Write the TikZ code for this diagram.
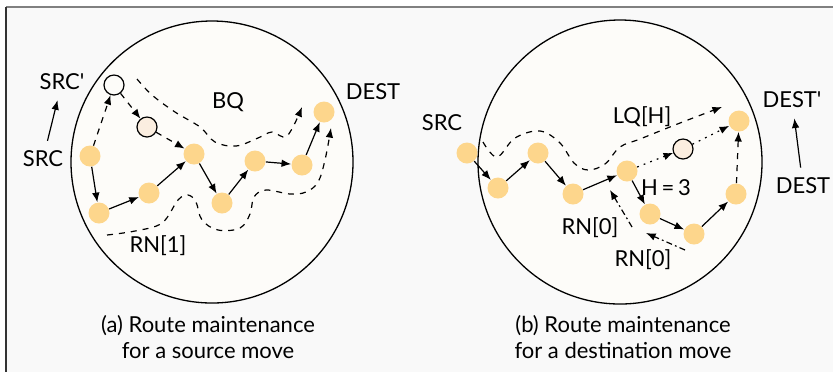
\documentclass[tikz,border=0pt]{standalone}
\usepackage{fontspec}
\setmainfont{Lato}
\usetikzlibrary{arrows.meta}
\definecolor{hoporange}{RGB}{253,214,140}
\definecolor{oldpeach}{RGB}{251,238,224}
\definecolor{areafill}{RGB}{253,252,249}
\definecolor{panelgray}{RGB}{249,249,249}
\begin{document}
\begin{tikzpicture}[x=0.5pt,y=-0.5pt,>={Latex[length=4.8pt,width=3.8pt]}]
        		\tikzstyle{hop}=[circle,fill=hoporange,minimum size=10.5pt,inner sep=0pt]
        		\tikzstyle{moved}=[circle,draw=black,line width=0.6pt,fill=areafill,minimum size=10pt,inner sep=0pt]
        		\tikzstyle{edge}=[draw=black,line width=0.6pt,->]
        		\tikzstyle{txt}=[inner sep=0pt,font=\fontsize{11}{13}\selectfont]
        		\tikzstyle{area}=[draw=black,line width=0.65pt,fill=areafill]

        		\useasboundingbox (0,0) rectangle (833,372);
        		\fill[panelgray] (6,7) rectangle (833,372);
        		\draw[gray,line width=1pt] (6,7) -- (833,7);
        		\draw[black!80,line width=1pt] (6,7) -- (6,372);

       			% (a) source move
       			\begin{scope}
			         \draw[area] (212,162) circle [radius=141];

			         \node [hop] (a1) at (90,156) {};
			         \node [hop] (a2) at (99,213) {};
			         \node [hop] (a3) at (149,193) {};
			         \node [hop] (a4) at (194,154) {};
			         \node [hop] (a5) at (222,203) {};
			         \node [hop] (a6) at (255,161) {};
			         \node [hop] (a7) at (302,165) {};
			         \node [hop] (a8) at (324,112) {};
			         \node [moved] (w1) at (114,85) {};
			         \node [moved,fill=oldpeach] (w2) at (147,127) {};

			         \node [txt] (srca) at (43,159) {SRC};
			         \node [txt] (srcpa) at (62,82) {SRC\textquotesingle};
			         \node [txt] (desta) at (373,92) {DEST};
			         \node [txt] (bq) at (228,102) {BQ};
			         \node [txt] (rn1) at (158,246) {RN[1]};
			         \node [txt,align=center] (capa) at (208,337) {(a) Route maintenance\\for a source move};

			 		\path (a1) edge[edge] (a2);
			 		\path (a2) edge[edge] (a3);
			 		\path (a3) edge[edge] (a4);
			 		\path (a4) edge[edge] (a5);
			 		\path (a5) edge[edge] (a6);
			 		\path (a6) edge[edge] (a7);
			 		\path (a7) edge[edge] (a8);
			 		\path (a1) edge[edge,dashed] (w1);
			 		\path (w1) edge[edge,dashed] (w2);
			 		\path (w2) edge[edge,dashed] (a4);
			 		\path (srca) edge[edge,shorten <=5pt,shorten >=5pt] (srcpa);

			 		\draw[edge,dashed] plot[smooth,tension=0.6] coordinates {(137,79) (152,95) (175,112) (200,127) (215,142) (236,146) (258,138) (272,132) (287,136) (302,107)};
			 		\draw[edge,dashed] plot[smooth,tension=0.6] coordinates {(107,235) (135,231) (162,223) (178,200) (188,195) (196,202) (202,220) (218,230) (240,228) (250,214) (254,197) (266,190) (290,194) (306,192) (318,182) (325,160) (331,128)};
		        \end{scope}

       			% (b) destination move
       			\begin{scope}
			         \draw[area] (620,162) circle [radius=142];

			         \node [hop] (b1) at (467,153) {};
			         \node [hop] (b2) at (498,188) {};
			         \node [hop] (b3) at (538,153) {};
			         \node [hop] (b4) at (573,194) {};
			         \node [hop] (b5) at (627,171) {};
			         \node [hop] (b6) at (650,214) {};
			         \node [hop] (b7) at (694,234) {};
			         \node [hop] (b8) at (736,194) {};
			         \node [hop] (b9) at (739,121) {};
			         \node [moved,fill=oldpeach] (w3) at (683,149) {};

			         \node [txt] (srcb) at (442,123) {SRC};
			         \node [txt] (destpb) at (792,100) {DEST\textquotesingle};
			         \node [txt] (destb) at (803,186) {DEST};
			         \node [txt] (lqh) at (642,117) {LQ[H]};
			         \node [txt] (hval) at (666,188) {H$\,$=$\,$3};
			         \node [txt] (rn0a) at (590,228) {RN[0]};
			         \node [txt] (rn0b) at (643,260) {RN[0]};
			         \node [txt,align=center] (capb) at (623,337) {(b) Route maintenance\\for a destination move};

			         \coordinate (r1s) at (632,227);
			         \coordinate (r1e) at (610,190);
			         \coordinate (r2s) at (685,250);
			         \coordinate (r2e) at (646,233);

			 		\path (b1) edge[edge] (b2);
			 		\path (b2) edge[edge] (b3);
			 		\path (b3) edge[edge] (b4);
			 		\path (b4) edge[edge] (b5);
			 		\path (b5) edge[edge] (b6);
			 		\path (b6) edge[edge] (b7);
			 		\path (b7) edge[edge] (b8);
			 		\path (b8) edge[edge,dashed] (b9);
			 		\path (b5) edge[edge,dash pattern=on 0.9pt off 2.6pt] (w3);
			 		\path (w3) edge[edge,dash pattern=on 0.9pt off 2.6pt] (b9);
			 		\path (r1s) edge[edge,dash pattern=on 3pt off 1.6pt on 0.9pt off 1.6pt] (r1e);
			 		\path (r2s) edge[edge,dash pattern=on 3pt off 1.6pt on 0.9pt off 1.6pt] (r2e);
			 		\path (destb) edge[edge,shorten <=5pt,shorten >=5pt] (destpb);

			 		\draw[edge,dashed] plot[smooth,tension=0.6] coordinates {(483,142) (497,157) (515,138) (540,131) (560,143) (574,163) (588,170) (605,164) (620,147) (640,139) (680,123) (722,107)};
		        \end{scope}
     		 \end{tikzpicture}
\end{document}
